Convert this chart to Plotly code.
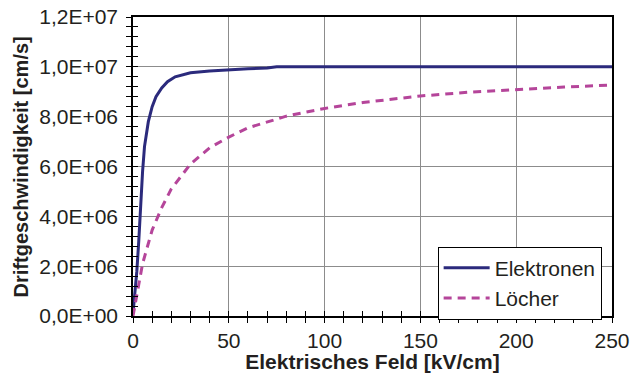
import plotly.graph_objects as go

# Electron drift velocity vs. electric field
feld_elektronen = [0, 1, 2, 3, 4, 5, 6, 7, 8, 10, 12, 15, 18, 22, 30, 40, 50, 60, 70, 75, 100, 150, 200, 250]
v_elektronen = [0.1e6, 0.9e6, 1.8e6, 3.0e6, 4.5e6, 5.8e6, 6.8e6, 7.3e6, 7.8e6, 8.4e6, 8.8e6, 9.15e6,
                9.4e6, 9.6e6, 9.76e6, 9.83e6, 9.88e6, 9.92e6, 9.95e6, 10.0e6, 10.0e6, 10.0e6, 10.0e6, 10.0e6]

# Hole drift velocity vs. electric field
feld_loecher = [0, 2, 5, 10, 15, 20, 30, 40, 50, 60, 70, 80, 90, 100, 120, 150, 175, 200, 225, 250]
v_loecher = [0.0, 0.9e6, 2.1e6, 3.45e6, 4.35e6, 5.1e6, 6.1e6, 6.75e6, 7.18e6, 7.55e6, 7.8e6, 8.02e6,
             8.18e6, 8.33e6, 8.57e6, 8.83e6, 8.98e6, 9.1e6, 9.19e6, 9.27e6]

y_tickvals = [0, 2e6, 4e6, 6e6, 8e6, 10e6, 12e6]
y_ticktext = ["0,0E+00", "2,0E+06", "4,0E+06", "6,0E+06", "8,0E+06", "1,0E+07", "1,2E+07"]
x_tickvals = [0, 50, 100, 150, 200, 250]

FONT = "Liberation Sans, Arial, sans-serif"
C_ELEK = "#2B2A7C"
C_LOCH = "#B5459A"

fig = go.Figure()
fig.add_trace(go.Scatter(x=feld_elektronen, y=v_elektronen, mode="lines", name="Elektronen",
                         line=dict(color=C_ELEK, width=3)))
fig.add_trace(go.Scatter(x=feld_loecher, y=v_loecher, mode="lines", name="Löcher",
                         line=dict(color=C_LOCH, width=3, dash="8px,6px")))
# invisible trace carrying the inner tick marks (cross-style ticks)
fig.add_trace(go.Scatter(x=[0, 250], y=[0, 12e6], xaxis="x2", yaxis="y2", mode="lines",
                         line=dict(width=0), showlegend=False, hoverinfo="skip"))

common_tick = dict(tickcolor="black", ticklen=5, tickwidth=1)
fig.update_layout(
    width=635, height=373,
    margin=dict(l=133, r=23, t=17, b=57),
    paper_bgcolor="white", plot_bgcolor="white",
    font=dict(family=FONT, size=20, color="#231F20"),
    xaxis=dict(range=[0, 250], tickvals=x_tickvals, ticks="outside", **common_tick,
               minor=dict(dtick=10, ticks="outside", ticklen=5, tickcolor="black", showgrid=False),
               showgrid=True, gridcolor="#8C8C8C", gridwidth=1, automargin=False,
               showline=True, linecolor="black", linewidth=1.5, mirror=True, zeroline=False,
               title=dict(text="<b>Elektrisches Feld [kV/cm]</b>", font=dict(size=21), standoff=2),
               tickfont=dict(size=21)),
    yaxis=dict(range=[0, 12e6], tickvals=y_tickvals, ticktext=y_ticktext, ticks="outside", **common_tick,
               minor=dict(dtick=0.4e6, ticks="outside", ticklen=5, tickcolor="black", showgrid=False),
               showgrid=True, gridcolor="#8C8C8C", gridwidth=1, automargin=False,
               showline=True, linecolor="black", linewidth=1.5, mirror=True, zeroline=False,
               tickfont=dict(size=21), ticklabelstandoff=4),
    xaxis2=dict(overlaying="x", range=[0, 250], tickvals=x_tickvals, ticks="inside", **common_tick,
                minor=dict(dtick=10, ticks="inside", ticklen=5, tickcolor="black"), automargin=False,
                showticklabels=False, showgrid=False, zeroline=False, side="bottom", anchor="y2"),
    yaxis2=dict(overlaying="y", range=[0, 12e6], tickvals=y_tickvals, ticks="inside", **common_tick,
                minor=dict(dtick=0.4e6, ticks="inside", ticklen=5, tickcolor="black"), automargin=False,
                showticklabels=False, showgrid=False, zeroline=False, side="left", anchor="x2"),
    legend=dict(x=0.636, y=0.232, xanchor="left", yanchor="top",
                bgcolor="white", bordercolor="black", borderwidth=1,
                font=dict(size=21), tracegroupgap=0, itemwidth=46),
    showlegend=True,
)

# y-axis title placed close to the left edge
fig.add_annotation(text="<b>Driftgeschwindigkeit [cm/s]</b>", textangle=-90,
                   xref="paper", yref="paper", x=-0.234, y=0.5,
                   xanchor="center", yanchor="middle", showarrow=False,
                   font=dict(size=20, family=FONT, color="#231F20"))

fig.write_html("out.html")
